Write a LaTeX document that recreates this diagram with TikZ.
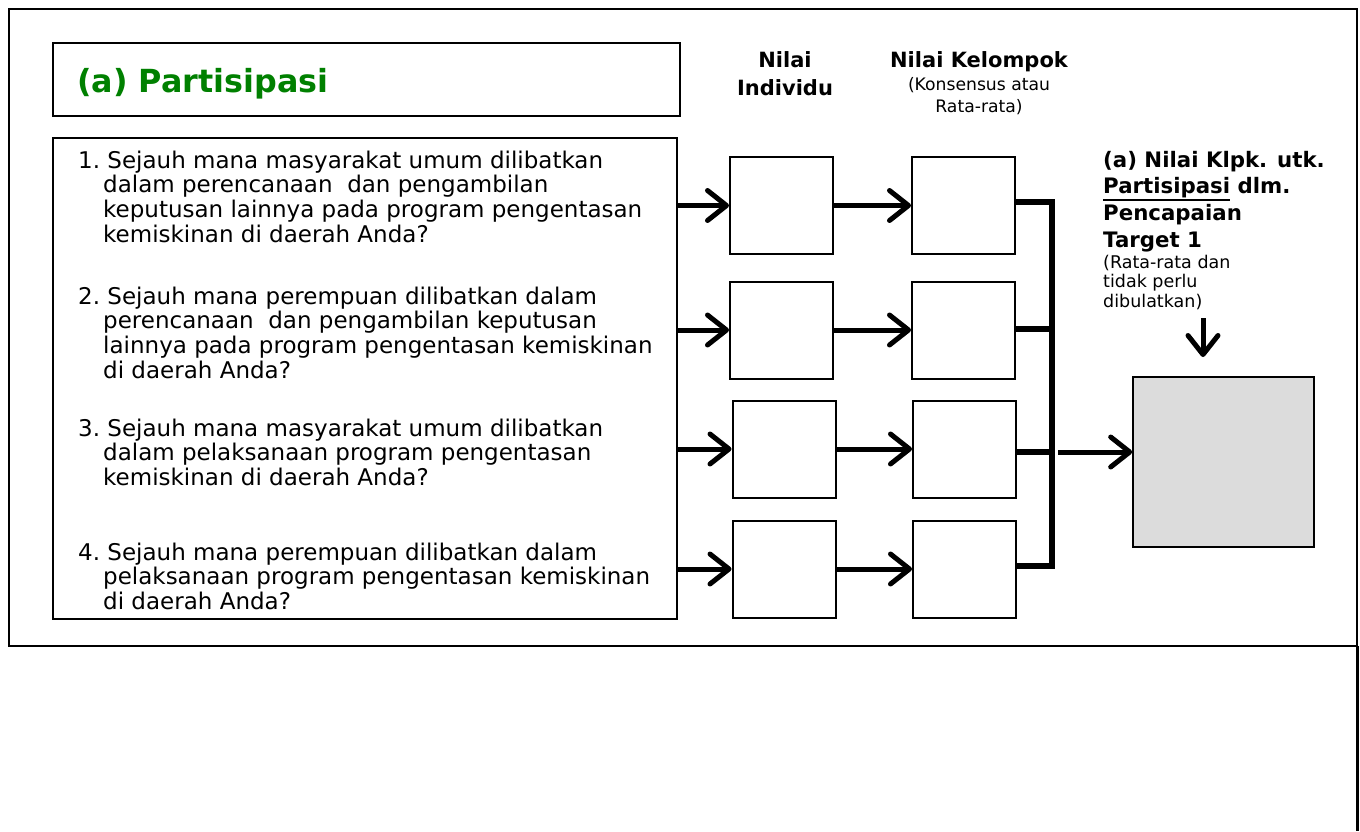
\documentclass[tikz,border=0pt]{standalone}
\usepackage{fontspec}
\setmainfont{DejaVu Sans}
\usetikzlibrary{arrows.meta}
\definecolor{titlegreen}{RGB}{0,128,0}
\definecolor{resgrey}{RGB}{220,220,220}
\newcommand{\thickul}[1]{\setbox0=\hbox{#1}\rlap{\rule[-7pt]{\wd0}{1.8pt}}\box0\relax}
\begin{document}
\begin{tikzpicture}[x=1pt,y=-1pt,
  framebox/.style={draw, line width=2pt, inner sep=0pt},
  valbox/.style={draw, line width=2pt, minimum width=103pt, minimum height=97pt, inner sep=0pt},
  resbox/.style={draw, line width=1.6pt, fill=resgrey, inner sep=0pt, minimum width=181pt, minimum height=170pt},
  flow/.style={line width=5pt, -{Straight Barb[length=19pt,width=30pt,round]}},
  busline/.style={line width=5.5pt},
  qtext/.style={anchor=base west, inner sep=0pt, font=\fontsize{23}{24.4}\selectfont},
  headbold/.style={anchor=base, inner sep=0pt, font=\fontsize{21}{28}\selectfont\bfseries},
  headsmall/.style={anchor=base, inner sep=0pt, font=\fontsize{17.2}{22.5}\selectfont},
]
\useasboundingbox (0,0) rectangle (1360,831);
% outer frame
\draw[line width=2.2pt] (9,9) rectangle (1357,646);
\draw[line width=3pt] (1357,646) -- (1357,831);

% title box
\node[framebox, minimum width=627pt, minimum height=73pt] (titlebox) at (366.5,79.5) {};
\node[anchor=base west, inner sep=0pt, text=titlegreen, font=\fontsize{31.8}{38}\selectfont\bfseries] (title) at (77,92) {(a) Partisipasi};

% questions box
\node[framebox, line width=2.4pt, minimum width=624pt, minimum height=481pt] (qbox) at (365,378.5) {};
\node[qtext] (q1) at (78,168) {\begin{tabular}[t]{@{}l@{}}1.\ Sejauh mana masyarakat umum dilibatkan\\
\hspace*{25pt}dalam perencanaan\ \ dan pengambilan\\
\hspace*{25pt}keputusan lainnya pada program pengentasan\\
\hspace*{25pt}kemiskinan di daerah Anda?\end{tabular}};
\node[qtext] (q2) at (78,304) {\begin{tabular}[t]{@{}l@{}}2.\ Sejauh mana perempuan dilibatkan dalam\\
\hspace*{25pt}perencanaan\ \ dan pengambilan keputusan\\
\hspace*{25pt}lainnya pada program pengentasan kemiskinan\\
\hspace*{25pt}di daerah Anda?\end{tabular}};
\node[qtext] (q3) at (78,436) {\begin{tabular}[t]{@{}l@{}}3.\ Sejauh mana masyarakat umum dilibatkan\\
\hspace*{25pt}dalam pelaksanaan program pengentasan\\
\hspace*{25pt}kemiskinan di daerah Anda?\end{tabular}};
\node[qtext] (q4) at (78,560) {\begin{tabular}[t]{@{}l@{}}4.\ Sejauh mana perempuan dilibatkan dalam\\
\hspace*{25pt}pelaksanaan program pengentasan kemiskinan\\
\hspace*{25pt}di daerah Anda?\end{tabular}};

% column headers
\node[headbold] (hind) at (785,67) {\begin{tabular}[t]{@{}c@{}}Nilai\\Individu\end{tabular}};
\node[headbold] (hgrp) at (979,67) {Nilai Kelompok};
\node[headsmall] (hgrpnote) at (979,90) {\begin{tabular}[t]{@{}c@{}}(Konsensus atau\\Rata-rata)\end{tabular}};

% result header
\node[anchor=base west, inner sep=0pt, font=\fontsize{21.3}{26.7}\selectfont\bfseries] (reshead) at (1103,167)
  {\begin{tabular}[t]{@{}l@{}}(a) Nilai Klpk. utk.\\\thickul{Partisipasi} dlm.\\Pencapaian\\Target 1\end{tabular}};
\node[anchor=base west, inner sep=0pt, font=\fontsize{17.5}{19.5}\selectfont] (resnote) at (1103,268)
  {\begin{tabular}[t]{@{}l@{}}(Rata-rata dan\\tidak perlu\\dibulatkan)\end{tabular}};

% value boxes
\node[valbox] (i1) at (781.5,205.5) {};
\node[valbox] (i2) at (781.5,330) {};
\node[valbox] (i3) at (784,449) {};
\node[valbox] (i4) at (784,569) {};
\node[valbox] (g1) at (963.5,205.5) {};
\node[valbox] (g2) at (963.5,330) {};
\node[valbox] (g3) at (964.5,449) {};
\node[valbox] (g4) at (964.5,569) {};

% result box
\node[resbox] (res) at (1223.5,462) {};

% arrows from questions
\draw[flow] (qbox.east |- i1.west) -- (i1.west);
\draw[flow] (qbox.east |- i2.west) -- (i2.west);
\draw[flow] (qbox.east |- i3.west) -- (i3.west);
\draw[flow] (qbox.east |- i4.west) -- (i4.west);
\draw[flow] (i1.east) -- (g1.west);
\draw[flow] (i2.east) -- (g2.west);
\draw[flow] (i3.east) -- (g3.west);
\draw[flow] (i4.east) -- (g4.west);

% bus
\coordinate (bustop) at (1052,202);
\coordinate (bus2) at (1052,329);
\coordinate (bus3) at (1052,452);
\coordinate (busbot) at (1052,566);
\coordinate (busout) at (1058,452);
\draw[busline, line join=miter] (g1.east |- bustop) -- (bustop) -- (busbot) -- (g4.east |- busbot);
\draw[busline] (g2.east |- bus2) -- (bus2);
\draw[busline] (g3.east |- bus3) -- (bus3);
\draw[flow] (busout) -- (res.west |- busout);

% down arrow
\coordinate (dtop) at (1203,318);
\coordinate (dbot) at (1203,357);
\draw[flow] (dtop) -- (dbot);
\end{tikzpicture}
\end{document}
